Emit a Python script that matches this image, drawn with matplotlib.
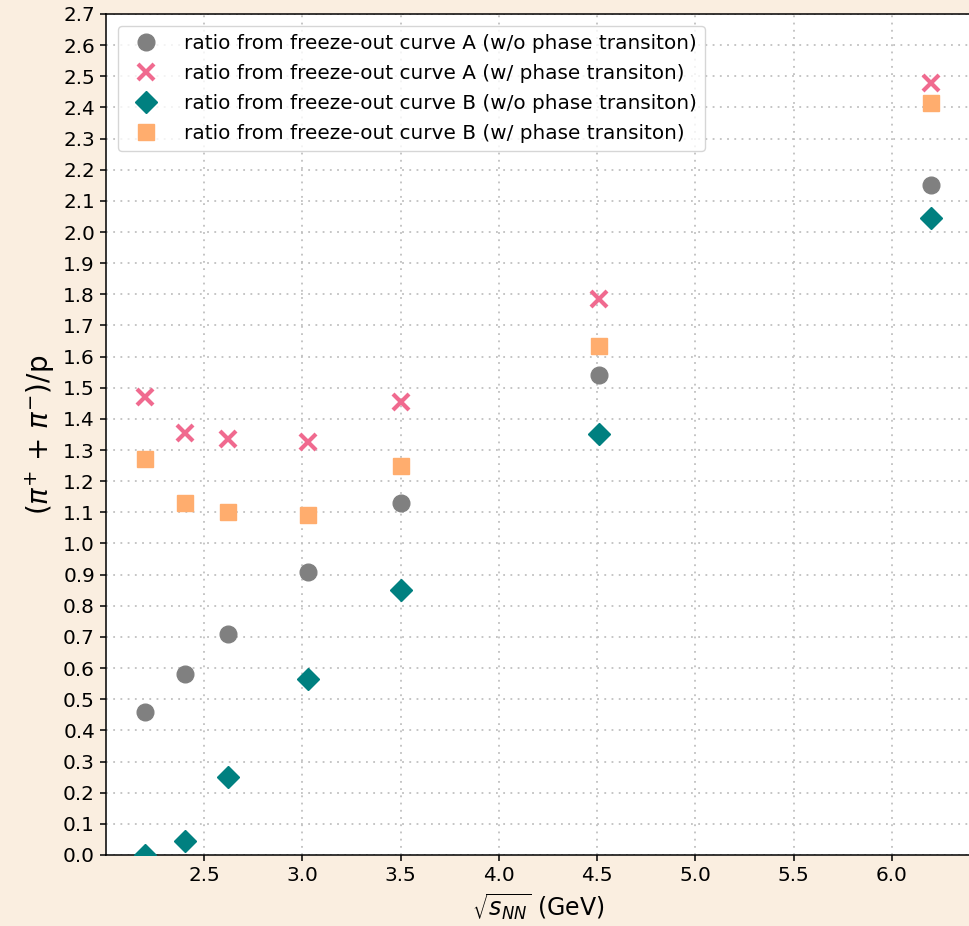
import matplotlib
matplotlib.use("Agg")
import matplotlib.pyplot as plt

energies = [2.2, 2.4, 2.62, 3.03, 3.5, 4.51, 6.2]
ratio_A_wo = [0.46, 0.58, 0.71, 0.91, 1.13, 1.54, 2.15]
ratio_A_w = [1.47, 1.355, 1.335, 1.325, 1.455, 1.785, 2.48]
ratio_B_wo = [0.0, 0.045, 0.25, 0.565, 0.85, 1.35, 2.045]
ratio_B_w = [1.27, 1.13, 1.10, 1.09, 1.25, 1.635, 2.415]
labels = [
    "ratio from freeze-out curve A (w/o phase transiton)",
    "ratio from freeze-out curve A (w/ phase transiton)",
    "ratio from freeze-out curve B (w/o phase transiton)",
    "ratio from freeze-out curve B (w/ phase transiton)",
]

fig = plt.figure(figsize=(9.69, 9.26), dpi=100, facecolor="#faeee0")
ax = fig.add_axes([0.1094, 0.0767, 0.8922, 0.9082])
ax.set_facecolor("white")

ax.plot(energies, ratio_A_wo, linestyle="none", marker="o", ms=12, color="#808080", label=labels[0], zorder=3)
ax.plot(energies, ratio_A_w, linestyle="none", marker="x", ms=11, mew=3, color="#f06a8f", label=labels[1], zorder=3)
ax.plot(energies, ratio_B_wo, linestyle="none", marker="D", ms=11, color="#008080", label=labels[2], zorder=3)
ax.plot(energies, ratio_B_w, linestyle="none", marker="s", ms=12, color="#ffad6e", label=labels[3], zorder=3)

ax.set_ylim(0, 2.7)
ax.set_xlim(2.0, 6.4)
ax.set_yticks([i / 10 for i in range(28)])
ax.set_xticks([2.5, 3.0, 3.5, 4.0, 4.5, 5.0, 5.5, 6.0])
ax.tick_params(labelsize=14.4, length=4.5, width=1.1)
for s in ax.spines.values():
    s.set_linewidth(1.1)
ax.grid(True, linestyle=(0, (1, 3)), color="#c0c0c0", linewidth=1.3)
ax.set_axisbelow(True)

ax.set_xlabel(r"$\sqrt{s_{NN}}$ (GeV)", fontsize=17)
ax.set_ylabel(r"($\pi^{+}$ + $\pi^{-}$)/p", fontsize=20)
ax.legend(loc="upper left", fontsize=14.4, handletextpad=0.9, labelspacing=0.55,
          borderaxespad=0.6)

fig.savefig("out.png", dpi=100, facecolor=fig.get_facecolor())
